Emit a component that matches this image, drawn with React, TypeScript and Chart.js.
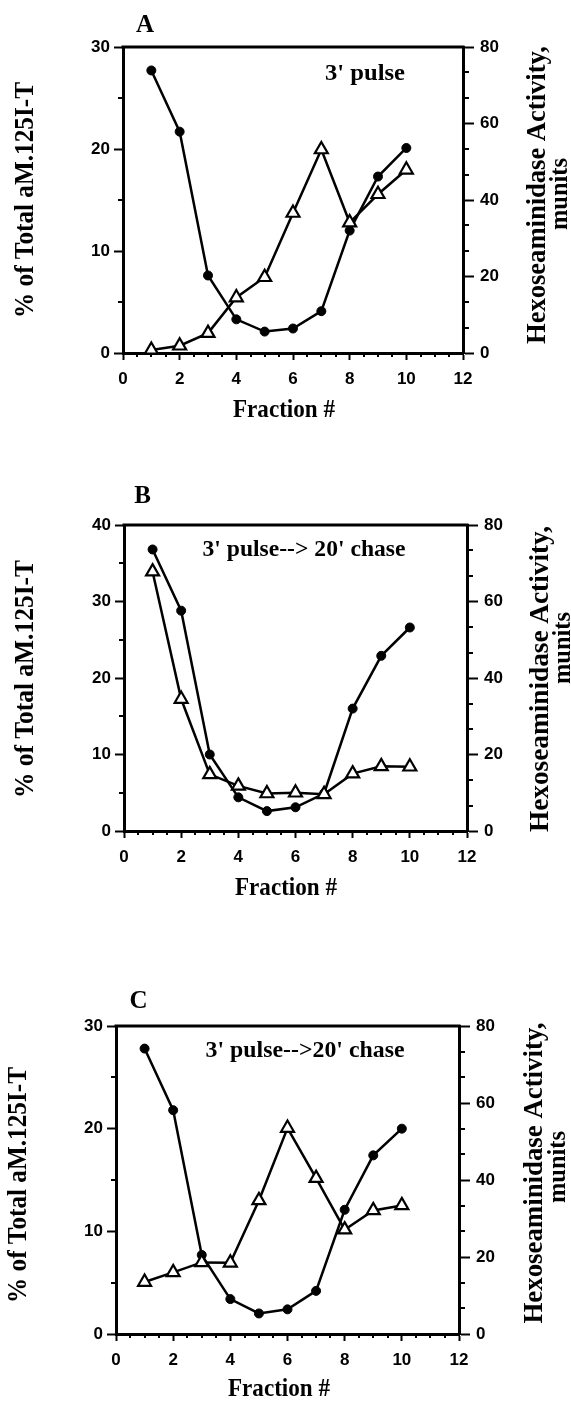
import React, { useEffect, useRef } from "react";
import { Chart, registerables } from "chart.js";

Chart.register(...registerables);

// ---------------- data ----------------
const FRACTIONS = [1, 2, 3, 4, 5, 6, 7, 8, 9, 10];

// Panel A: 3' pulse
const A_TOTAL = [27.7, 21.7, 7.6, 3.3, 2.1, 2.4, 4.1, 12.0, 17.3, 20.1];
const A_HEX = [0.8, 1.9, 5.2, 14.5, 19.8, 36.6, 53.2, 34.1, 41.5, 47.9];

// Panel B: 3' pulse --> 20' chase
const B_TOTAL = [36.8, 28.8, 10.0, 4.4, 2.6, 3.1, 4.9, 16.0, 22.9, 26.6];
const B_HEX = [67.8, 34.5, 14.8, 11.8, 9.8, 10.0, 9.6, 15.0, 16.9, 16.8];

// Panel C: 3' pulse -->20' chase
const C_TOTAL = [27.8, 21.8, 7.7, 3.4, 2.0, 2.4, 4.2, 12.1, 17.4, 20.0];
const C_HEX = [13.5, 16.0, 18.6, 18.5, 34.7, 53.5, 40.5, 27.1, 32.1, 33.4];

const X_MIN = 0;
const X_MAX = 12;
const X_STEP = 2;
const X_MINOR = 0.5;
const LEFT_STEP = 10;
const LEFT_MINOR = 5;
const RIGHT_MAX = 80;
const RIGHT_STEP = 20;
const RIGHT_MINOR = 20 / 3;

const LEFT_TITLE = "% of Total aM.125I-T";
const RIGHT_TITLE = "Hexoseaminidase Activity,";
const RIGHT_TITLE_2 = "munits";
const X_TITLE = "Fraction #";

// ---------------- styling ----------------
const SERIF = '"Liberation Serif", "Times New Roman", serif';
const SANS = '"Liberation Sans", Arial, sans-serif';
const INK = "#000";

type TextSpec = {
  text: string;
  x: number;
  y: number;
  size: number;
  width?: number;
  rot?: number;
  baseline?: CanvasTextBaseline;
};

type PanelSpec = {
  key: string;
  top: number;
  height: number;
  padTop: number;
  wL: number;
  wR: number;
  hX: number;
  leftMax: number;
  total: number[];
  hex: number[];
  texts: TextSpec[];
};

const R = -Math.PI / 2;

const PANELS: PanelSpec[] = [
  {
    key: "A",
    top: 0,
    height: 440,
    padTop: 47,
    wL: 123,
    wR: 108,
    hX: 87,
    leftMax: 30,
    total: A_TOTAL,
    hex: A_HEX,
    texts: [
      { text: "A", x: 145, y: 32, size: 25 },
      { text: "3' pulse", x: 365, y: 80, size: 23, width: 80 },
      { text: LEFT_TITLE, x: 26, y: 200, size: 27, width: 236, rot: R, baseline: "middle" },
      { text: RIGHT_TITLE, x: 538, y: 195, size: 27, width: 298, rot: R, baseline: "middle" },
      { text: RIGHT_TITLE_2, x: 560, y: 194, size: 26, width: 72, rot: R, baseline: "middle" },
      { text: X_TITLE, x: 284, y: 417, size: 26, width: 102 },
    ],
  },
  {
    key: "B",
    top: 440,
    height: 460,
    padTop: 85,
    wL: 124,
    wR: 104,
    hX: 69,
    leftMax: 40,
    total: B_TOTAL,
    hex: B_HEX,
    texts: [
      { text: "B", x: 142.5, y: 63, size: 25 },
      { text: "3' pulse--> 20' chase", x: 304, y: 116, size: 23, width: 203 },
      { text: LEFT_TITLE, x: 26, y: 239, size: 27, width: 238, rot: R, baseline: "middle" },
      { text: RIGHT_TITLE, x: 541, y: 239, size: 27, width: 306, rot: R, baseline: "middle" },
      { text: RIGHT_TITLE_2, x: 563, y: 208, size: 26, width: 72, rot: R, baseline: "middle" },
      { text: X_TITLE, x: 286, y: 455, size: 26, width: 102 },
    ],
  },
  {
    key: "C",
    top: 900,
    height: 501,
    padTop: 126,
    wL: 116,
    wR: 112,
    hX: 67,
    leftMax: 30,
    total: C_TOTAL,
    hex: C_HEX,
    texts: [
      { text: "C", x: 138.5, y: 108, size: 25 },
      { text: "3' pulse-->20' chase", x: 305, y: 157, size: 23, width: 199 },
      { text: LEFT_TITLE, x: 19, y: 285, size: 27, width: 236, rot: R, baseline: "middle" },
      { text: RIGHT_TITLE, x: 535, y: 273, size: 27, width: 301, rot: R, baseline: "middle" },
      { text: RIGHT_TITLE_2, x: 558, y: 267, size: 26, width: 72, rot: R, baseline: "middle" },
      { text: X_TITLE, x: 279, y: 496, size: 26, width: 102 },
    ],
  },
];

function minorValues(max: number, step: number, major: number): number[] {
  const out: number[] = [];
  const n = Math.round(max / step);
  for (let i = 1; i < n; i++) {
    const v = i * step;
    const r = v / major;
    if (Math.abs(r - Math.round(r)) > 1e-6) out.push(v);
  }
  return out;
}

function makePlugin(p: PanelSpec) {
  return {
    id: "panelDecor" + p.key,
    beforeDatasetsDraw(chart: any) {
      const { ctx, chartArea } = chart;
      ctx.save();
      ctx.strokeStyle = INK;
      ctx.lineWidth = 3;
      ctx.beginPath();
      ctx.moveTo(chartArea.left - 1.5, chartArea.top);
      ctx.lineTo(chartArea.right + 1.5, chartArea.top);
      ctx.stroke();

      // minor ticks, positioned through the chart's own scales
      ctx.lineWidth = 2;
      const sx = chart.scales.x;
      const sl = chart.scales.yL;
      const sr = chart.scales.yR;
      ctx.beginPath();
      for (const v of minorValues(X_MAX, X_MINOR, X_STEP)) {
        const px = Math.round(sx.getPixelForValue(v));
        ctx.moveTo(px, chartArea.bottom);
        ctx.lineTo(px, chartArea.bottom + 4);
      }
      for (const v of minorValues(p.leftMax, LEFT_MINOR, LEFT_STEP)) {
        const py = Math.round(sl.getPixelForValue(v));
        ctx.moveTo(chartArea.left, py);
        ctx.lineTo(chartArea.left - 5, py);
      }
      for (const v of minorValues(RIGHT_MAX, RIGHT_MINOR, RIGHT_STEP)) {
        const py = Math.round(sr.getPixelForValue(v));
        ctx.moveTo(chartArea.right, py);
        ctx.lineTo(chartArea.right + 6, py);
      }
      ctx.stroke();
      ctx.restore();
    },
    afterDraw(chart: any) {
      const ctx = chart.ctx;
      for (const t of p.texts) {
        ctx.save();
        ctx.font = `bold ${t.size}px ${SERIF}`;
        ctx.fillStyle = INK;
        ctx.textAlign = "center";
        ctx.textBaseline = t.baseline ?? "alphabetic";
        const w = ctx.measureText(t.text).width;
        const k = t.width ? t.width / w : 1;
        ctx.translate(t.x, t.y);
        if (t.rot) ctx.rotate(t.rot);
        ctx.scale(k, 1);
        ctx.fillText(t.text, 0, 0);
        ctx.restore();
      }
    },
  };
}

const tickFont = { family: SANS, size: 17, weight: "bold" as const };

function makeConfig(p: PanelSpec): any {
  return {
    type: "line",
    data: {
      datasets: [
        {
          label: "Hexoseaminidase Activity",
          data: FRACTIONS.map((x, i) => ({ x, y: p.hex[i] })),
          yAxisID: "yR",
          borderColor: INK,
          borderWidth: 2.5,
          pointStyle: "triangle",
          pointRadius: 7.5,
          pointBackgroundColor: "#fff",
          pointBorderColor: INK,
          pointBorderWidth: 2.2,
          tension: 0,
          fill: false,
          clip: false,
        },
        {
          label: "% of Total aM.125I-T",
          data: FRACTIONS.map((x, i) => ({ x, y: p.total[i] })),
          yAxisID: "yL",
          borderColor: INK,
          borderWidth: 2.5,
          pointStyle: "circle",
          pointRadius: 4.5,
          pointBackgroundColor: INK,
          pointBorderColor: INK,
          pointBorderWidth: 1,
          tension: 0,
          fill: false,
          clip: false,
        },
      ],
    },
    options: {
      responsive: false,
      animation: false,
      events: [],
      layout: { padding: { top: p.padTop, left: 0, right: 0, bottom: 0 } },
      plugins: {
        legend: { display: false },
        tooltip: { enabled: false },
        title: { display: false },
      },
      scales: {
        x: {
          type: "linear",
          position: "bottom",
          min: X_MIN,
          max: X_MAX,
          ticks: {
            stepSize: X_STEP,
            font: tickFont,
            color: INK,
            padding: 9,
            maxRotation: 0,
            autoSkip: false,
          },
          grid: {
            drawOnChartArea: false,
            drawTicks: true,
            tickLength: 7,
            tickWidth: 2,
            tickColor: INK,
          },
          border: { display: true, color: INK, width: 3 },
          afterFit: (s: any) => {
            s.height = p.hX;
          },
        },
        yL: {
          type: "linear",
          position: "left",
          min: 0,
          max: p.leftMax,
          ticks: { stepSize: LEFT_STEP, font: tickFont, color: INK, padding: 4 },
          grid: {
            drawOnChartArea: false,
            drawTicks: true,
            tickLength: 9,
            tickWidth: 2,
            tickColor: INK,
          },
          border: { display: true, color: INK, width: 3 },
          afterFit: (s: any) => {
            s.width = p.wL;
          },
        },
        yR: {
          type: "linear",
          position: "right",
          min: 0,
          max: RIGHT_MAX,
          ticks: { stepSize: RIGHT_STEP, font: tickFont, color: INK, padding: 6 },
          grid: {
            drawOnChartArea: false,
            drawTicks: true,
            tickLength: 11,
            tickWidth: 2,
            tickColor: INK,
          },
          border: { display: true, color: INK, width: 3 },
          afterFit: (s: any) => {
            s.width = p.wR;
          },
        },
      },
    },
    plugins: [makePlugin(p)],
  };
}

function Panel({ spec }: { spec: PanelSpec }) {
  const ref = useRef<HTMLCanvasElement>(null);
  useEffect(() => {
    if (!ref.current) return;
    const chart = new Chart(ref.current, makeConfig(spec));
    return () => chart.destroy();
  }, [spec]);
  return (
    <canvas
      ref={ref}
      width={571}
      height={spec.height}
      style={{
        position: "absolute",
        left: 0,
        top: spec.top,
        width: 571,
        height: spec.height,
        display: "block",
      }}
    />
  );
}

export default function App() {
  return (
    <div
      style={{
        position: "absolute",
        left: 0,
        top: 0,
        width: 571,
        height: 1401,
        background: "#fff",
        overflow: "hidden",
      }}
    >
      {PANELS.map((p) => (
        <Panel key={p.key} spec={p} />
      ))}
    </div>
  );
}
